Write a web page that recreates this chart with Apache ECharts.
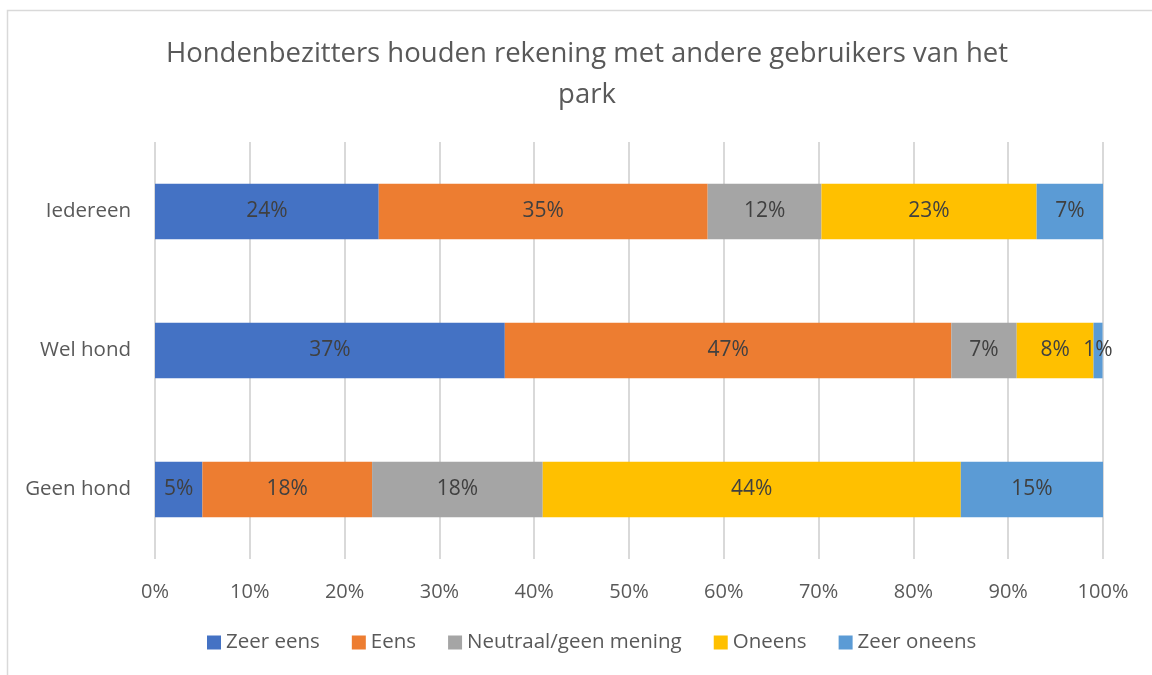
<!DOCTYPE html>
<html>
<head>
<meta charset="utf-8">
<script src="https://cdn.jsdelivr.net/npm/echarts@6/dist/echarts.min.js"></script>
<style>
html, body { margin: 0; padding: 0; background: #fff; }
#main { width: 1152px; height: 675px; }
</style>
</head>
<body>
<div id="main"></div>
<script>
var categories = ['Iedereen', 'Wel hond', 'Geen hond'];
var seriesNames = ['Zeer eens', 'Eens', 'Neutraal/geen mening', 'Oneens', 'Zeer oneens'];
var zeerEens = [23.6, 36.9, 5.0];
var eens = [34.7, 47.1, 17.9];
var neutraal = [12.0, 6.9, 18.0];
var oneens = [22.7, 8.1, 44.1];
var zeerOneens = [7.0, 0.95, 15.0];
var tickLabels = ['0%', '10%', '20%', '30%', '40%', '50%', '60%', '70%', '80%', '90%', '100%'];
var colors = ['#4472C4', '#ED7D31', '#A5A5A5', '#FFC000', '#5B9BD5'];

var myChart = echarts.init(document.getElementById('main'));
var allValues = [zeerEens, eens, neutraal, oneens, zeerOneens];
var series = [];
for (var i = 0; i < seriesNames.length; i++) {
    series.push({
        name: seriesNames[i],
        type: 'bar',
        stack: 'totaal',
        barCategoryGap: '60%',
        data: allValues[i],
        itemStyle: { color: colors[i] },
        label: {
            show: true,
            position: 'inside',
            color: '#404040',
            fontSize: 21,
            fontFamily: 'Open Sans',
            formatter: function (p) { return Math.round(p.value) + '%'; }
        }
    });
}

option = {
    animation: false,
    color: colors,
    title: {
        text: 'Hondenbezitters houden rekening met andere gebruikers van het\npark',
        left: 582,
        top: 29,
        textAlign: 'center',
        textStyle: {
            color: '#595959',
            fontSize: 27.5,
            fontWeight: 'normal',
            fontFamily: 'Open Sans',
            lineHeight: 41
        }
    },
    graphic: [{
        type: 'rect',
        shape: { x: 7.5, y: 10.5, width: 1200, height: 700 },
        style: { fill: 'none', stroke: '#d9d9d9', lineWidth: 1.5 },
        silent: true
    }],
    legend: {
        bottom: 17,
        left: 202,
        itemWidth: 14,
        itemHeight: 14,
        itemGap: 32,
        itemTextGap: 5,
        icon: 'rect',
        data: seriesNames,
        textStyle: { color: '#595959', fontSize: 20.5, fontFamily: 'Open Sans' }
    },
    grid: { left: 155, right: 49, top: 142, bottom: 116 },
    xAxis: {
        type: 'value',
        min: 0,
        max: 100,
        interval: 10,
        axisLine: { show: false },
        axisTick: { show: false },
        splitLine: { lineStyle: { color: '#d9d9d9', width: 2 } },
        axisLabel: {
            margin: 23,
            color: '#595959',
            fontSize: 20,
            fontFamily: 'Open Sans',
            formatter: function (v) { return tickLabels[Math.round(v / 10)]; }
        }
    },
    yAxis: {
        type: 'category',
        inverse: true,
        data: categories,
        axisLine: { show: false },
        axisTick: { show: false },
        axisLabel: { margin: 24, color: '#595959', fontSize: 20.5, fontFamily: 'Open Sans' }
    },
    series: series
};
myChart.setOption(option);
</script>
</body>
</html>
